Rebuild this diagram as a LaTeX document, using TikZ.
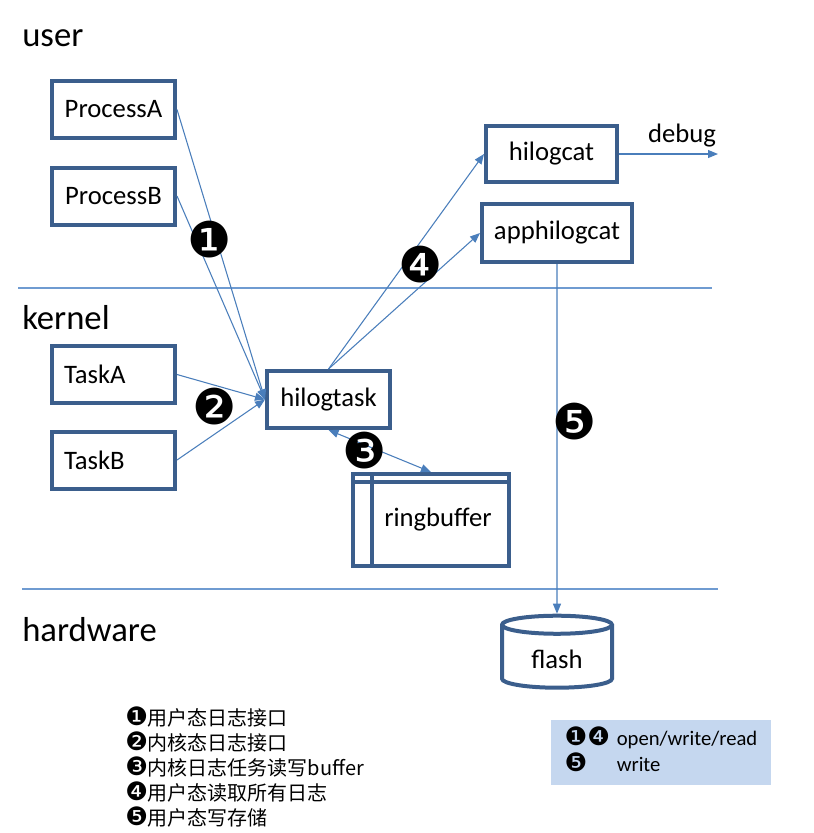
\documentclass[tikz,border=0pt]{standalone}
\usepackage{fontspec}
\setmainfont{Carlito}
\newfontfamily\cjkfont{Noto Sans CJK SC}
\newfontfamily\dingfont{DejaVu Sans}
\usetikzlibrary{arrows.meta,shapes.geometric,calc}
\definecolor{boxblue}{HTML}{3B5E8C}
\definecolor{linkblue}{HTML}{4A7EBB}
\definecolor{sepblue}{HTML}{6F9BD1}
\definecolor{legendfill}{HTML}{C5D7EF}
\newcommand{\bignum}[1]{{\dingfont\fontsize{37}{37}\selectfont #1}}
\newcommand{\smallnum}[1]{{\dingfont\fontsize{19}{18.75}\selectfont #1}}

\begin{document}
\begin{tikzpicture}[x=0.75pt,y=-0.75pt,
    module/.style={draw=boxblue,line width=3pt,minimum width=92.25pt,minimum height=42.75pt,
        font=\fontsize{20}{24}\selectfont},
    leftmodule/.style={module,text width=74.25pt,align=left},
    link/.style={linkblue,line width=0.8pt,-{Triangle[length=7.5pt,width=6pt]}},
    layer/.style={anchor=west,inner sep=0pt,font=\fontsize{26}{30}\selectfont},
    sep/.style={sepblue,line width=0.8pt},
    badge/.style={inner sep=0pt}]
    \useasboundingbox (0,0) rectangle (814,833);

    % Layers
    \node[layer] (user) at (22,38) {user};
    \node[layer] (kernel) at (22,318) {kernel};
    \node[layer] (hardware) at (22,630) {hardware};
    \draw[sep] (18,288) -- (712,288);
    \draw[sep] (22,589) -- (718,589);

    % User space
    \node[module] (ProcessA) at (113.5,109.5) {ProcessA};
    \node[module] (ProcessB) at (113.5,196) {ProcessB};
    \node[module,minimum width=98.25pt,minimum height=42pt] (hilogcat) at (551.5,154) {hilogcat};
    \node[module,minimum width=112.5pt,minimum height=43.5pt] (apphilogcat) at (557,233) {apphilogcat};
    \coordinate (debug) at (718,154);
    \node (debuglabel) at (682,136) [font=\fontsize{20}{24}\selectfont] {debug};

    % Kernel
    \node[leftmodule] (TaskA) at (113.5,374.5) {TaskA};
    \node[leftmodule] (TaskB) at (113.5,460) {TaskB};
    \node[module] (hilogtask) at (328.5,399.5) {hilogtask};
    \node[module,minimum width=117pt,minimum height=69pt] (ringbuffer) at (431,520) {\hspace*{10.5pt}ringbuffer};
    \draw[boxblue,line width=3pt] ($(ringbuffer.north west)+(0,10)$) -- ($(ringbuffer.north east)+(0,10)$);
    \draw[boxblue,line width=3pt] ($(ringbuffer.north west)+(20.5,0)$) -- ($(ringbuffer.south west)+(20.5,0)$);

    % Hardware
    \node[cylinder,shape border rotate=90,aspect=0.3,draw=boxblue,line width=3pt,
        minimum width=82.5pt,minimum height=54pt,font=\fontsize{20}{24}\selectfont] (flash) at (557,659) {flash};

    % Connections
    \draw[link] (ProcessA.east) -- (hilogtask.west);
    \draw[link] (ProcessB.east) -- (hilogtask.west);
    \draw[link] (TaskA.east) -- (hilogtask.west);
    \draw[link] (TaskB.east) -- (hilogtask.west);
    \draw[link] (hilogtask.north) -- (hilogcat.west);
    \draw[link] (hilogtask.north) -- (apphilogcat.west);
    \draw[link,{Triangle[length=7.5pt,width=6pt]}-{Triangle[length=7.5pt,width=6pt]}] (hilogtask.south) -- (ringbuffer.north);
    \draw[link] (hilogcat.east) -- (debug);
    \draw[link] (apphilogcat.south) -- (flash.north);

    % Step numbers
    \node[badge] (n1) at (210,240) {\bignum{❶}};
    \node[badge] (n2) at (215,407) {\bignum{❷}};
    \node[badge] (n3) at (365,451) {\bignum{❸}};
    \node[badge] (n4) at (421,265) {\bignum{❹}};
    \node[badge] (n5) at (575,422) {\bignum{❺}};

    % Legend
    \node[anchor=north west,inner sep=0pt,align=left,font=\cjkfont\fontsize{15}{18.75}\selectfont] (notes) at (125,707)
        {\smallnum{❶}用户态日志接口\\ \smallnum{❷}内核态日志接口\\ \smallnum{❸}内核日志任务读写buffer\\
         \smallnum{❹}用户态读取所有日志\\ \smallnum{❺}用户态写存储};
    \node[fill=legendfill,minimum width=165pt,minimum height=48.75pt,font=\fontsize{15.5}{18.75}\selectfont] (keys) at (661,752.5)
        {\begin{tabular}{@{}l@{\hspace{5pt}}l@{}}
         \smallnum{❶❹} & open/write/read\\
         \smallnum{❺} & write
         \end{tabular}};
\end{tikzpicture}
\end{document}
